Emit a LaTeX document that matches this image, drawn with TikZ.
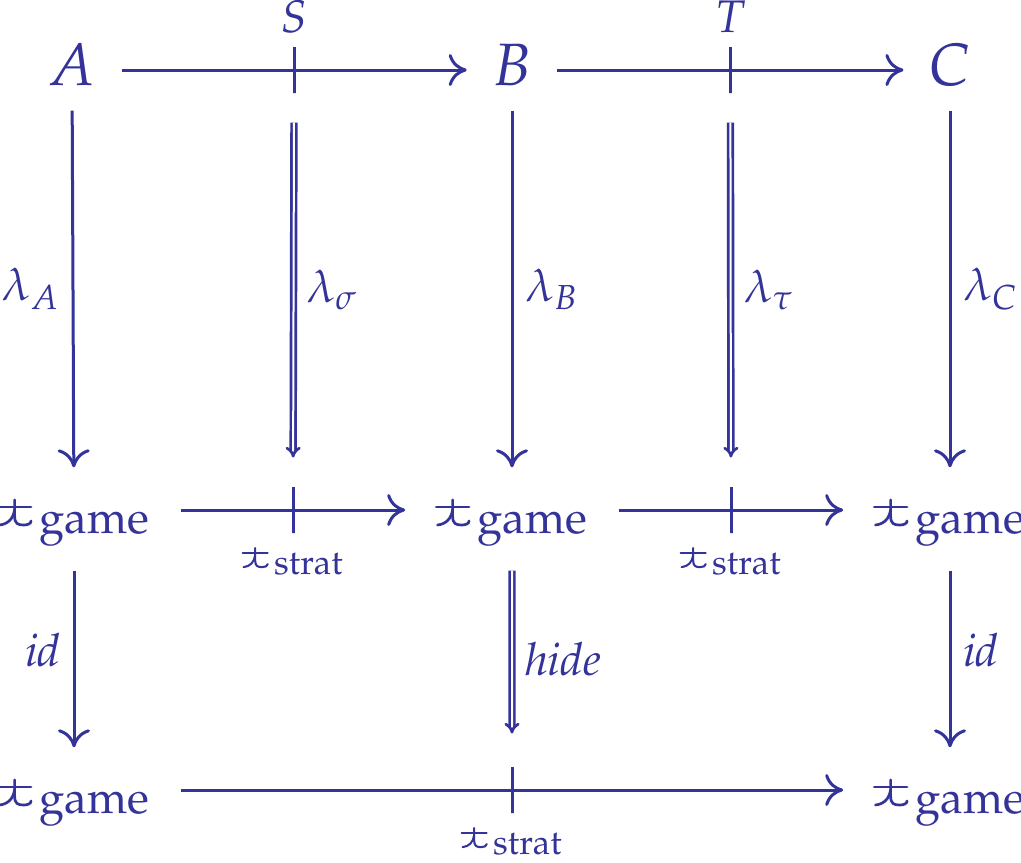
\documentclass[tikz,border=0pt]{standalone}
\usepackage[T1]{fontenc}
\usepackage{mathpazo}
\usepackage{tikz}
\usetikzlibrary{arrows.meta,positioning}
\definecolor{ink}{RGB}{51,51,153}

% the game/strategy marker
\newcommand{\gmark}{\tikz[baseline=0pt,x=0.55em,y=0.42em,line width=0.045em,line cap=round]{%
  \draw (0,0.72) -- (1,0.72);
  \draw (0.5,1) -- (0.5,0.35) .. controls (0.5,0.05) and (0.6,0) .. (0.78,0)
        .. controls (0.9,0) and (1,0.06) .. (1,0.16);
  \draw (0.5,0.62) .. controls (0.46,0.25) and (0.3,0.04) .. (0.04,0);}\kern0.12em}

\begin{document}
\begin{tikzpicture}[
      color=ink,
      obj/.style={font=\fontsize{17}{20}\selectfont,text height=0.40cm,
                  text depth=0.10cm,inner xsep=0.25cm,inner ysep=0.15cm},
      gobj/.style={font=\fontsize{17}{20}\selectfont,text height=0.57cm,
                   text depth=0.27cm,inner xsep=0.29cm,inner ysep=0pt},
      lbl/.style={font=\fontsize{13}{16}\selectfont},
      arrow/.style={line width=0.03cm,
                    -{Computer Modern Rightarrow[length=0.18cm,width=0.32cm]}},
      twocell/.style={line width=0.027cm,double,double distance=0.02cm,
                      -{Implies},shorten <=0.28cm,shorten >=0.28cm},
      tick/.style={draw,line width=0.03cm,inner sep=0pt,
                   minimum width=0pt,minimum height=0.46cm},
    ]
    \useasboundingbox (0,0) rectangle (10.21,-8.62);

    % top row
    \node[obj] (A) at (0.72,-0.70) {$A$};
    \node[obj] (B) at (5.12,-0.70) {$B$};
    \node[obj] (C) at (9.50,-0.70) {$C$};

    % middle row
    \node[gobj] (g1) at (0.74,-5.10) {$\gmark_{\mathrm{game}}$};
    \node[gobj] (g2) at (5.12,-5.10) {$\gmark_{\mathrm{game}}$};
    \node[gobj] (g3) at (9.50,-5.10) {$\gmark_{\mathrm{game}}$};

    % bottom row
    \node[gobj] (h1) at (0.74,-7.90) {$\gmark_{\mathrm{game}}$};
    \node[gobj] (h3) at (9.50,-7.90) {$\gmark_{\mathrm{game}}$};

    % horizontal arrows
    \draw[arrow] (A)  -- node[tick] (s)  {} (B);
    \draw[arrow] (B)  -- node[tick] (t)  {} (C);
    \draw[arrow] (g1) -- node[tick] (sg) {} (g2);
    \draw[arrow] (g2) -- node[tick] (tg) {} (g3);
    \draw[arrow] (h1) -- node[tick] (hg) {} (h3);

    \node[lbl,above=0pt of s] (slab) {$S$};
    \node[lbl,above=0pt of t] (tlab) {$T$};
    \node[lbl,below=0pt of sg] (sglab) {$\gmark_{\mathrm{strat}}$};
    \node[lbl,below=0pt of tg] (tglab) {$\gmark_{\mathrm{strat}}$};
    \node[lbl,below=0pt of hg] (hglab) {$\gmark_{\mathrm{strat}}$};

    % vertical arrows
    \draw[arrow] (A) -- node[lbl,midway,left] (la) {$\lambda_A$} (g1);
    \draw[arrow] (B) -- node[lbl,midway,right] (lb) {$\lambda_B$} (g2);
    \draw[arrow] (C) -- node[lbl,midway,right] (lc) {$\lambda_C$} (g3);
    \draw[twocell] (s) -- node[lbl,midway,right] (ls) {$\lambda_\sigma$} (sg);
    \draw[twocell] (t) -- node[lbl,midway,right] (lt) {$\lambda_\tau$} (tg);

    \draw[arrow,shorten <=0.18cm] (g1) -- node[lbl,midway,left] (id1) {$\mathit{id}$} (h1);
    \draw[arrow,shorten <=0.18cm] (g3) -- node[lbl,midway,right] (id3) {$\mathit{id}$} (h3);
    \draw[twocell,shorten <=0.18cm,shorten >=0.32cm] (g2) -- node[lbl,midway,right] (hd) {$\mathit{hide}$} (hg);

  \end{tikzpicture}
\end{document}
